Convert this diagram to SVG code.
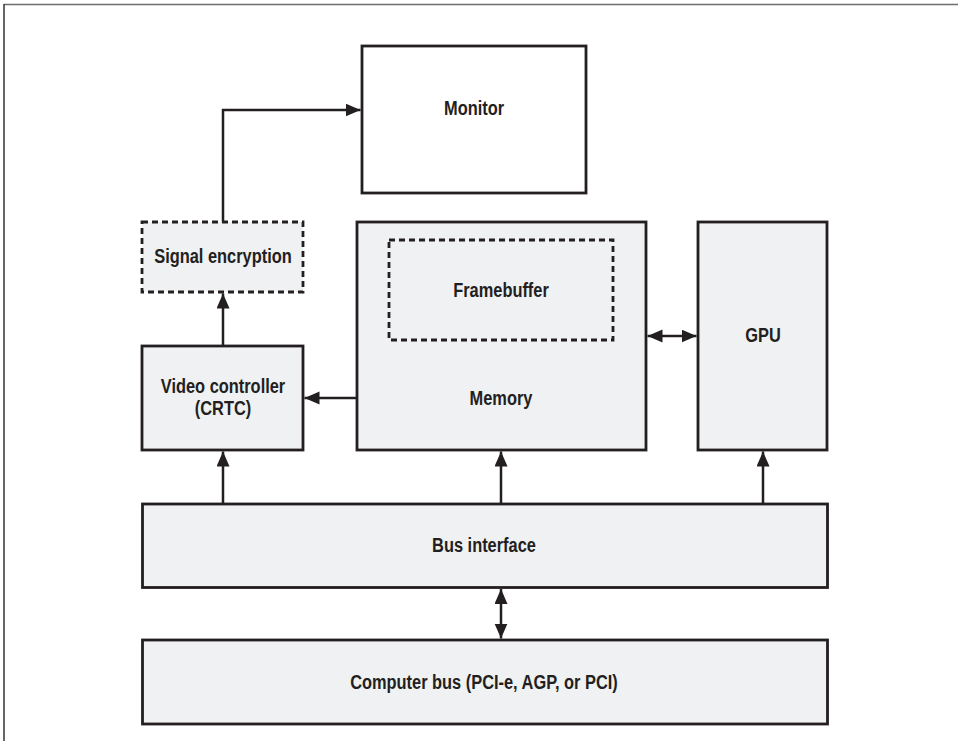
<svg xmlns="http://www.w3.org/2000/svg" width="958" height="741" viewBox="0 0 958 741">
<style>
.box{fill:#f0f1f3;stroke:#231f20;stroke-width:2.8}
.dash{fill:#f0f1f3;stroke:#231f20;stroke-width:2.8;stroke-dasharray:6 4}
.white{fill:#ffffff;stroke:#231f20;stroke-width:2.8}
.lbl{font-family:"Liberation Sans",Arial,sans-serif;font-weight:bold;font-size:20.5px;fill:#231f20;text-anchor:middle}
.con{fill:none;stroke:#231f20;stroke-width:2.5}
</style>
<defs>
<marker id="ah" markerUnits="userSpaceOnUse" markerWidth="16" markerHeight="14" refX="15" refY="6.5" orient="auto-start-reverse">
<path d="M0,0 L15,6.5 L0,13 z" fill="#231f20"/>
</marker>
</defs>
<rect width="958" height="741" fill="#ffffff"/>
<line x1="4" y1="4.5" x2="958" y2="4.5" stroke="#6d6e71" stroke-width="1.5"/>
<line x1="4" y1="4" x2="4" y2="741" stroke="#333333" stroke-width="1.5"/>

<g id="monitor">
<rect class="white" x="362" y="46" width="224" height="147"/>
<text class="lbl" transform="translate(474,115) scale(0.8,1)">Monitor</text>
</g>
<g id="signal-encryption">
<rect class="dash" x="142" y="222" width="161" height="70"/>
<text class="lbl" transform="translate(223,263) scale(0.8,1)">Signal encryption</text>
</g>
<g id="memory">
<rect class="box" x="357" y="222" width="289" height="228"/>
<text class="lbl" transform="translate(501,405) scale(0.8,1)">Memory</text>
</g>
<g id="framebuffer">
<rect class="dash" x="389" y="240" width="224" height="100"/>
<text class="lbl" transform="translate(501,297) scale(0.8,1)">Framebuffer</text>
</g>
<g id="gpu">
<rect class="box" x="698" y="222" width="129" height="228"/>
<text class="lbl" transform="translate(763,342) scale(0.8,1)">GPU</text>
</g>
<g id="video-controller">
<rect class="box" x="142" y="346" width="161" height="104"/>
<text class="lbl" transform="translate(223,393) scale(0.8,1)">Video controller</text>
<text class="lbl" transform="translate(223,415) scale(0.8,1)">(CRTC)</text>
</g>
<g id="bus-interface">
<rect class="box" x="142.5" y="504" width="685" height="83.5"/>
<text class="lbl" transform="translate(484,552) scale(0.8,1)">Bus interface</text>
</g>
<g id="computer-bus">
<rect class="box" x="142.5" y="640" width="685" height="84"/>
<text class="lbl" transform="translate(484,689) scale(0.8,1)">Computer bus (PCI-e, AGP, or PCI)</text>
</g>

<g id="connectors">
<path class="con" d="M223,222 V110 H360.5" marker-end="url(#ah)"/>
<path class="con" d="M223,345 V293.5" marker-end="url(#ah)"/>
<path class="con" d="M356,398 H304.5" marker-end="url(#ah)"/>
<path class="con" d="M647.5,336 H696.5" marker-start="url(#ah)" marker-end="url(#ah)"/>
<path class="con" d="M223,503 V451.5" marker-end="url(#ah)"/>
<path class="con" d="M501,503 V451.5" marker-end="url(#ah)"/>
<path class="con" d="M763,503 V451.5" marker-end="url(#ah)"/>
<path class="con" d="M501,589 V638.5" marker-start="url(#ah)" marker-end="url(#ah)"/>
</g>
</svg>
